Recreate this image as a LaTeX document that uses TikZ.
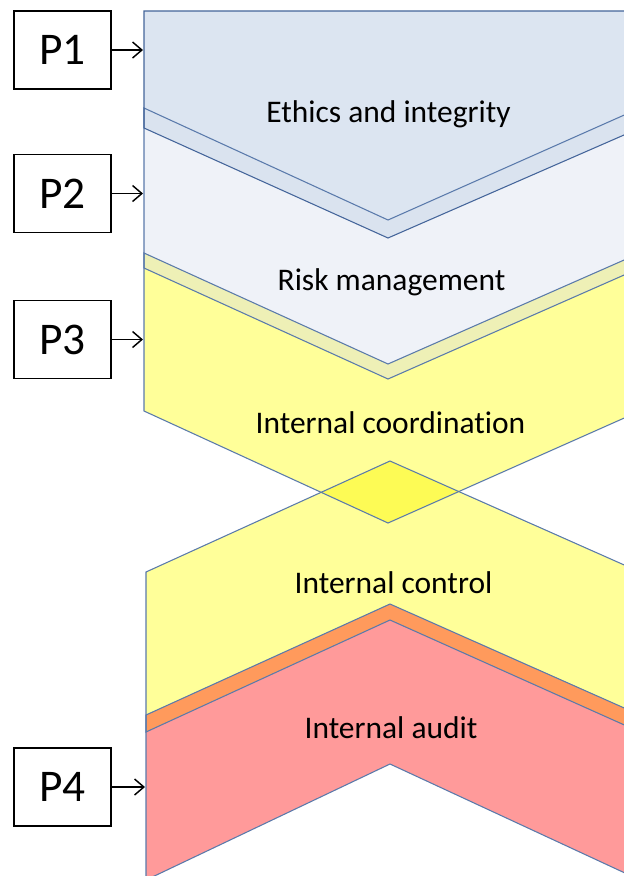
\documentclass[tikz,border=0pt]{standalone}
\usepackage{fontspec}
\setmainfont{Carlito}[Ligatures={NoCommon}]
\usetikzlibrary{arrows.meta}
\definecolor{sOne}{HTML}{DCE5F1}
\definecolor{sTwo}{HTML}{EFF2F8}
\definecolor{sOneTwo}{HTML}{DAE3EF}
\definecolor{sYel}{HTML}{FFFF99}
\definecolor{sTwoThree}{HTML}{EEF0B6}
\definecolor{sDia}{HTML}{FDFB55}
\definecolor{sPink}{HTML}{FF9A9A}
\definecolor{sOrange}{HTML}{FF9A5C}
\definecolor{sEdge}{HTML}{5A7AAB}
\definecolor{sEdgeDark}{HTML}{44659A}
\tikzset{
  outline/.style={draw=sEdge, line width=0.8pt, line join=miter},
  pbox/.style={draw=black, line width=1.1pt, minimum width=72.75pt, minimum height=58.5pt, inner sep=0pt, font=\fontsize{34}{40}\selectfont},
  plink/.style={line width=1.1pt, -{Straight Barb[length=7pt,width=12pt,line width=1.1pt]}},
  lbl/.style={anchor=base, inner sep=0pt, font=\fontsize{23.6}{28}\selectfont}
}
\def\shOne{(144,11) -- (640,11) -- (640,128) -- (388,238) -- (144,128) -- cycle}
\def\shTwo{(144,108) -- (388,220) -- (640,108) -- (640,268) -- (388,379) -- (144,268) -- cycle}
\def\shThree{(144,253) -- (388,364) -- (640,253) -- (640,411) -- (388,523) -- (144,411) -- cycle}
\def\shFour{(146,572) -- (390,461) -- (640,572) -- (640,732) -- (390,620) -- (146,732) -- cycle}
\def\shFive{(146,715) -- (390,604) -- (640,715) -- (640,880) -- (390,764) -- (146,880) -- cycle}
\begin{document}
\begin{tikzpicture}[x=0.75pt,y=-0.75pt]
\useasboundingbox (0,0) rectangle (624,876);
\clip (0,0) rectangle (624,876);
% fills
\fill[sTwo] \shTwo;
\fill[sOne] \shOne;
\fill[sYel] \shThree;
\fill[sYel] \shFour;
\fill[sPink] \shFive;
% overlaps
\begin{scope}\clip \shOne; \fill[sOneTwo] \shTwo; \end{scope}
\begin{scope}\clip \shTwo; \fill[sTwoThree] \shThree; \end{scope}
\begin{scope}\clip \shThree; \fill[sDia] \shFour; \end{scope}
\begin{scope}\clip \shFour; \fill[sOrange] \shFive; \end{scope}
% outlines
\draw[outline] \shTwo;
\draw[outline] \shThree;
\draw[outline] \shFour;
\draw[outline] \shFive;
\draw[outline, draw=sEdgeDark] \shOne;
% labels
\node[lbl] (ethics) at (388.5,122) {Ethics and integrity};
\node[lbl] (risk) at (391.5,290) {Risk management};
\node[lbl] (coord) at (390.5,433) {Internal coordination};
\node[lbl] (control) at (393.5,593) {Internal control};
\node[lbl] (audit) at (391,738) {Internal audit};
% boxes
\node[pbox] (p1) at (62.5,50) {P1};
\node[pbox] (p2) at (62.5,193.5) {P2};
\node[pbox] (p3) at (62.5,339.5) {P3};
\node[pbox] (p4) at (62.5,787) {P4};
\coordinate (t1) at (143,50);
\coordinate (t2) at (143,193.5);
\coordinate (t3) at (143,339.5);
\coordinate (t4) at (145,787);
\draw[plink] (p1.east) -- (t1);
\draw[plink] (p2.east) -- (t2);
\draw[plink] (p3.east) -- (t3);
\draw[plink] (p4.east) -- (t4);
\end{tikzpicture}
\end{document}
